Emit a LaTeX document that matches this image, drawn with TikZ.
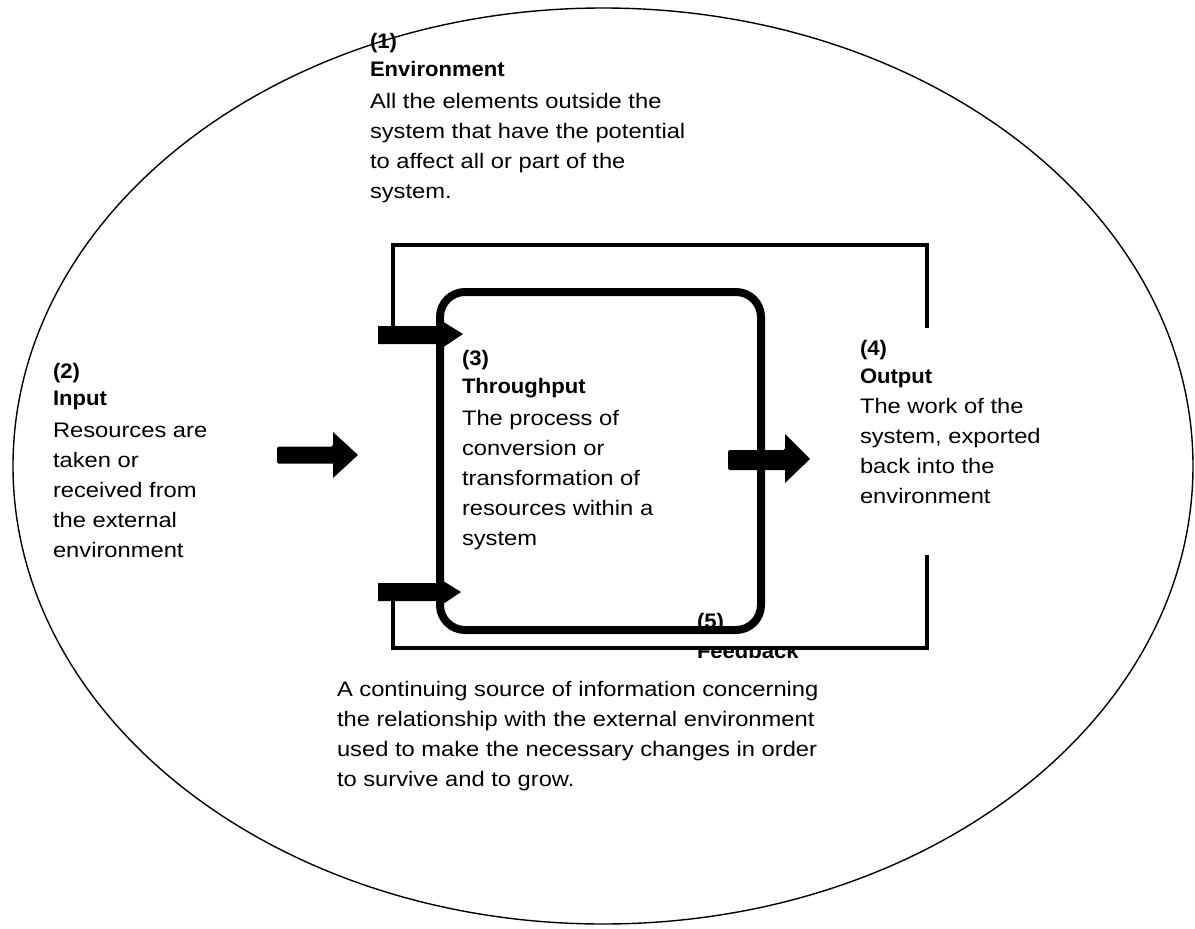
\documentclass[tikz,border=0pt]{standalone}
\usepackage{fontspec}
\setmainfont{Liberation Sans}[FakeStretch=1.13, BoldFeatures={FakeStretch=1.05}]
\usetikzlibrary{shapes.geometric}
\tikzset{
  txt/.style={anchor=north west, inner sep=0pt, outer sep=0pt, align=left, font=\fontsize{21}{30}\selectfont},
  loopline/.style={draw=black, line width=4pt},
  boxline/.style={draw=black, line width=8pt, rounded corners=25pt},
  arrowfill/.style={fill=black},
}
\begin{document}
\begin{tikzpicture}[x=1pt, y=-1pt]
\useasboundingbox (0,0) rectangle (1195,929);
\fill[white] (0,0) rectangle (1195,929);

% environment ellipse
\node[draw=black, line width=1.4pt, ellipse, minimum width=1180pt, minimum height=916pt, inner sep=0pt] (env) at (603,466) {};

% feedback loop
\coordinate (a1) at (393,335);
\coordinate (tl) at (393,245);
\coordinate (tr) at (927,245);
\coordinate (r1) at (927,328);
\coordinate (r2) at (927,555);
\coordinate (br) at (927,648);
\coordinate (bl) at (393,648);
\coordinate (a2) at (393,592);

% Feedback label (partly hidden by the loop line)
\begin{scope}
\clip (650,650) rectangle (900,700);
\node[txt] (fbk) at (697,637) {\strut\textbf{Feedback}};
\end{scope}

\draw[loopline] (a1) -- (tl) -- (tr) -- (r1);
\draw[loopline] (r2) -- (br) -- (bl) -- (a2);

% throughput box
\node[boxline, minimum width=321pt, minimum height=338pt, inner sep=0pt] (proc) at (600.5,461) {};

% small feedback arrows into the box
\fill[arrowfill] (378,326) -- (442,326) -- (442,321) -- (463,334) -- (442,348) -- (442,344) -- (378,344) -- cycle;
\fill[arrowfill] (378,583) -- (440,583) -- (440,579) -- (461,592) -- (440,606) -- (440,601) -- (378,601) -- cycle;

% input arrow
\fill[arrowfill, rounded corners=1.5pt] (277,446.5) -- (333,446.5) [sharp corners] -- (333,432) -- (358,455) -- (333,478) -- (333,463.5) [rounded corners=1.5pt] -- (277,463.5) -- cycle;
% output arrow
\fill[arrowfill, rounded corners=1.5pt] (728,450) -- (785,450) [sharp corners] -- (785,434) -- (810,459) -- (785,483) -- (785,470) [rounded corners=1.5pt] -- (728,470) -- cycle;

% texts
\node[txt] (t1) at (370,27) {\strut\textbf{(1)}\\[-2pt]\textbf{Environment}\\[2pt]All the elements outside the\\system that have the potential\\to affect all or part of the\\system.};

\node[txt] (t2) at (53,357) {\strut\textbf{(2)}\\[-3pt]\textbf{Input}\\[2pt]Resources are\\taken or\\received from\\the external\\environment};

\node[txt] (t3) at (462,344) {\strut\textbf{(3)}\\[-2pt]\textbf{Throughput}\\[2pt]The process of\\conversion or\\transformation of\\resources within a\\system};

\node[txt] (t4) at (860,334) {\strut\textbf{(4)}\\[-2pt]\textbf{Output}\\[0pt]The work of the\\system, exported\\back into the\\environment};

\node[txt] (t5) at (697,607) {\strut\textbf{(5)}};

\node[txt] (t6) at (337,675) {\strut A continuing source of information concerning\\the relationship with the external environment\\used to make the necessary changes in order\\to survive and to grow.};

\end{tikzpicture}
\end{document}
